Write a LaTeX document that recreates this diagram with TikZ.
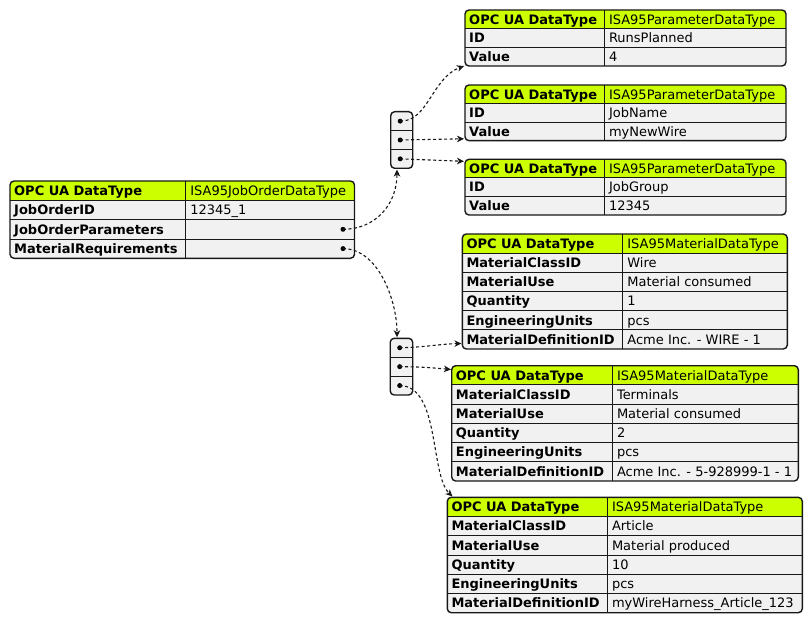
\documentclass[tikz,border=0pt]{standalone}
\usepackage{fontspec}
\setmainfont{DejaVu Sans}
\usetikzlibrary{arrows.meta}
\definecolor{headbg}{HTML}{CCFF00}
\definecolor{rowbg}{HTML}{F1F1F1}
\definecolor{lnc}{HTML}{181818}
\tikzset{
 outerln/.style={draw=lnc,line width=1.4pt},
 innerln/.style={draw=lnc,line width=0.9pt},
 keytxt/.style={anchor=base west,inner sep=0pt,font=\fontsize{13}{15}\selectfont\bfseries,text=black},
 valtxt/.style={anchor=base west,inner sep=0pt,font=\fontsize{13}{15}\selectfont,text=black},
 dotn/.style={circle,fill=black,inner sep=0pt,minimum size=5pt},
 conn/.style={draw=lnc,line width=1.1pt,dash pattern=on 3pt off 2.5pt,-{Stealth[length=7pt,width=6.5pt,inset=2pt]}},
}
% #1 name, #2 left, #3 split, #4 right, #5 top, #6 bottom, #7 nrows, #8 rows
\newcommand\jtab[8]{%
 \pgfmathsetmacro\rh{(#6-#5)/#7}
 \begin{scope}
  \clip[rounded corners=4pt] (#2,#5) rectangle (#4,#6);
  \fill[rowbg] (#2,#5) rectangle (#4,#6);
  \fill[headbg] (#2,#5) rectangle (#4,#5+\rh);
 \end{scope}
 \foreach \k/\v [count=\i from 0] in {#8}{
   \pgfmathsetmacro\yc{#5+(\i+0.5)*\rh}
   \ifnum\i>0 \draw[innerln] (#2,#5+\i*\rh) -- (#4,#5+\i*\rh); \fi
   \node[keytxt] (#1-k\i) at (#2+4,\yc+4.8) {\k};
   \node[valtxt] (#1-v\i) at (#3+4.5,\yc+4.8) {\v};
 }
 \draw[innerln] (#3,#5) -- (#3,#6);
 \draw[outerln,rounded corners=4pt] (#2,#5) rectangle (#4,#6);
}
% #1 name, #2 left, #3 right, #4 top, #5 bottom
\newcommand\listbox[5]{%
 \pgfmathsetmacro\rh{(#5-#4)/3}
 \fill[rowbg,rounded corners=4pt] (#2,#4) rectangle (#3,#5);
 \foreach \i in {1,2}{\draw[innerln] (#2,#4+\i*\rh) -- (#3,#4+\i*\rh);}
 \foreach \i in {1,2,3}{\node[dotn] (#1-d\i) at (#2+9.5,#4+\i*\rh-0.5*\rh) {};}
 \draw[outerln,rounded corners=4pt] (#2,#4) rectangle (#3,#5);
}
\begin{document}
\begin{tikzpicture}[x=1pt,y=-1pt]
\useasboundingbox[fill=white] (0,0) rectangle (812,623);

\jtab{main}{10}{185.7}{354.5}{181}{258.3}{4}{OPC UA DataType/ISA95JobOrderDataType, JobOrderID/12345\_1, JobOrderParameters/{}, MaterialRequirements/{}}
\node[dotn] (main-d1) at (343,229.3) {};
\node[dotn] (main-d2) at (343,248.6) {};

\jtab{pa}{465}{604.3}{786}{10}{66}{3}{OPC UA DataType/ISA95ParameterDataType, ID/RunsPlanned, Value/4}
\jtab{pb}{465}{604.3}{786}{85}{140.7}{3}{OPC UA DataType/ISA95ParameterDataType, ID/JobName, Value/myNewWire}
\jtab{pc}{465}{604.3}{786}{159.3}{215}{3}{OPC UA DataType/ISA95ParameterDataType, ID/JobGroup, Value/12345}

\jtab{ma}{462.3}{622.7}{787.3}{234}{349}{6}{OPC UA DataType/ISA95MaterialDataType, MaterialClassID/Wire, MaterialUse/Material consumed, Quantity/1, EngineeringUnits/pcs, MaterialDefinitionID/Acme Inc. - WIRE - 1}
\jtab{mb}{451.7}{612.3}{798.3}{365.7}{481}{6}{OPC UA DataType/ISA95MaterialDataType, MaterialClassID/Terminals, MaterialUse/Material consumed, Quantity/2, EngineeringUnits/pcs, MaterialDefinitionID/Acme Inc. - 5-928999-1 - 1}
\jtab{mc}{447.3}{607.3}{802.3}{497.3}{612.7}{6}{OPC UA DataType/ISA95MaterialDataType, MaterialClassID/Article, MaterialUse/Material produced, Quantity/10, EngineeringUnits/pcs, MaterialDefinitionID/myWireHarness\_Article\_123}

\listbox{sa}{390.7}{412.7}{111.7}{168.3}
\listbox{sb}{390.2}{412.7}{338.3}{395}

\coordinate (sa-in) at (397,169.5);
\coordinate (sb-in) at (397,337.3);
\coordinate (pa-in) at (464,66);
\coordinate (pb-in) at (464,138.8);
\coordinate (pc-in) at (464,161.3);
\coordinate (ma-in) at (461.5,343.5);
\coordinate (mb-in) at (451,369.5);
\coordinate (mc-in) at (452.5,496.5);

\draw[conn] (main-d1.center) .. controls (375,229.3) and (397,205) .. (sa-in);
\draw[conn] (main-d2.center) .. controls (378,248.6) and (397,300) .. (sb-in);
\draw[conn] (sa-d1.center) .. controls (428,121.7) and (432,78) .. (pa-in);
\draw[conn] (sa-d2.center) -- (pb-in);
\draw[conn] (sa-d3.center) -- (pc-in);
\draw[conn] (sb-d1.center) .. controls (425,347.3) and (440,344) .. (ma-in);
\draw[conn] (sb-d2.center) .. controls (420,366.7) and (435,368) .. (mb-in);
\draw[conn] (sb-d3.center) .. controls (440,385.7) and (430,475) .. (mc-in);
\end{tikzpicture}
\end{document}
